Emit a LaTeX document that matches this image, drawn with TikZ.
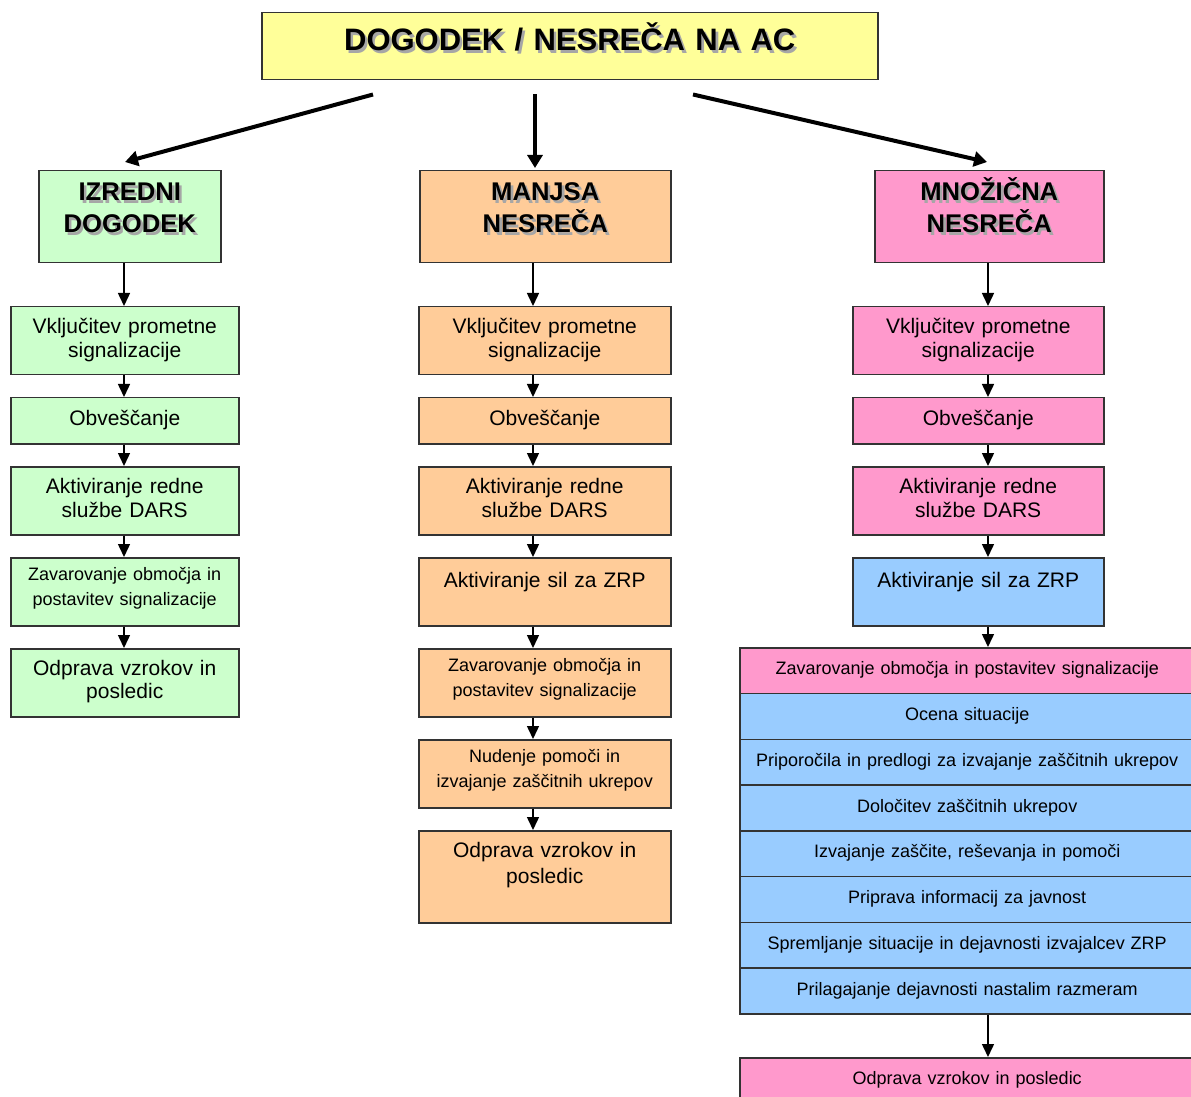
\documentclass[tikz,border=0pt]{standalone}
\usepackage{fontspec}
\setmainfont{Liberation Sans}
\usetikzlibrary{arrows.meta}

\definecolor{titlefill}{HTML}{FFFF99}
\definecolor{minorfill}{HTML}{CCFFCC}
\definecolor{smallfill}{HTML}{FFCC99}
\definecolor{massfill}{HTML}{FF99CC}
\definecolor{zrpfill}{HTML}{99CCFF}

\newcommand{\txtshadow}[1]{\leavevmode\rlap{\kern1.3pt\raisebox{-1.3pt}{\textcolor{black!35}{#1}}}#1}

\begin{document}
\begin{tikzpicture}[x=0.5pt, y=-0.5pt,
	box/.style={draw=black!80, line width=0.75pt, anchor=north west, inner sep=0pt, align=center},
	title node/.style={box, fill=titlefill, text width=308pt, text height=19pt, text depth=14.5pt, font=\fontsize{15.5}{19}\selectfont\bfseries},
	head node/.style={box, text height=15pt, text depth=31pt, font=\fontsize{12.8}{16}\selectfont\bfseries},
	step node/.style={box, text height=13.5pt, text depth=20.5pt, font=\fontsize{10.5}{12}\selectfont},
	low node/.style={step node, text height=14pt, text depth=9pt},
	sil node/.style={step node, text height=15pt, text depth=19pt},
	small node/.style={box, text height=11.5pt, text depth=22.5pt, font=\fontsize{9}{12.3}\selectfont},
	row node/.style={box, fill=zrpfill, text width=227.5pt, text height=13.5pt, text depth=9.375pt, font=\fontsize{9}{11}\selectfont},
	left col/.style={fill=minorfill, text width=114pt},
	mid col/.style={fill=smallfill, text width=126pt},
	right col/.style={fill=massfill, text width=125.5pt},
	flow/.style={-{Triangle[width=6pt,length=6.5pt]}, line width=0.75pt},
	main flow/.style={-{Triangle[width=7.5pt,length=6.5pt]}, line width=2pt}
]
	\clip (0,0) rectangle (1191,1097);

	\node[title node] (event) at (261,12) {\txtshadow{DOGODEK / NESREČA NA AC}};

	\node[head node, left col, text width=91pt] (minor) at (38,170) {\txtshadow{IZREDNI}\\\txtshadow{DOGODEK}};
	\node[head node, mid col, text width=125.5pt] (small) at (419,170) {\txtshadow{MANJSA}\\\txtshadow{NESREČA}};
	\node[head node, right col, text width=114.5pt] (mass) at (874,170) {\txtshadow{MNOŽIČNA}\\\txtshadow{NESREČA}};

	% izredni dogodek
	\node[step node, left col] (l1) at (10,306) {Vključitev prometne\\signalizacije};
	\node[low node, left col] (l2) at (10,397) {Obveščanje};
	\node[step node, left col] (l3) at (10,466) {Aktiviranje redne\\službe DARS};
	\node[small node, left col] (l4) at (10,557) {Zavarovanje območja in\\postavitev signalizacije};
	\node[step node, left col, font=\fontsize{10.5}{11.5}\selectfont] (l5) at (10,648) {Odprava vzrokov in\\posledic};

	% manjsa nesreca
	\node[step node, mid col] (m1) at (418,306) {Vključitev prometne\\signalizacije};
	\node[low node, mid col] (m2) at (418,397) {Obveščanje};
	\node[step node, mid col] (m3) at (418,466) {Aktiviranje redne\\službe DARS};
	\node[sil node, mid col] (m4) at (418,557) {Aktiviranje sil za ZRP};
	\node[small node, mid col] (m5) at (418,648) {Zavarovanje območja in\\postavitev signalizacije};
	\node[small node, mid col] (m6) at (418,739) {Nudenje pomoči in\\izvajanje zaščitnih ukrepov};
	\node[step node, mid col, text depth=32.5pt, font=\fontsize{10.5}{13}\selectfont] (m7) at (418,830) {Odprava vzrokov in\\posledic};

	% mnozicna nesreca
	\node[step node, right col] (r1) at (852,306) {Vključitev prometne\\signalizacije};
	\node[low node, right col] (r2) at (852,397) {Obveščanje};
	\node[step node, right col] (r3) at (852,466) {Aktiviranje redne\\službe DARS};
	\node[sil node, right col, fill=zrpfill] (r4) at (852,557) {Aktiviranje sil za ZRP};

	\node[row node, fill=massfill] (t0) at (739,647) {Zavarovanje območja in postavitev signalizacije};
	\foreach \rowtext [count=\i] in {Ocena situacije, Priporočila in predlogi za izvajanje zaščitnih ukrepov, Določitev zaščitnih ukrepov, {Izvajanje zaščite, reševanja in pomoči}, Priprava informacij za javnost, Spremljanje situacije in dejavnosti izvajalcev ZRP, Prilagajanje dejavnosti nastalim razmeram}
		\node[row node] (t\i) at (739,{647+45.75*\i}) {\rowtext};
	\node[row node, fill=massfill, text depth=10pt] (fix) at (739,1057) {Odprava vzrokov in posledic};

	\coordinate (lx) at (124,0);
	\coordinate (mx) at (533,0);
	\coordinate (rx) at (988,0);

	\draw[main flow] ([shift={(112,14)}]event.south west) -- ([shift={(87,-8)}]minor.north west);
	\draw[main flow] ([shift={(274,14)}]event.south west) -- ([shift={(116,-2)}]small.north west);
	\draw[main flow] ([shift={(432,14)}]event.south west) -- ([shift={(113,-8)}]mass.north west);

	\foreach \a/\b in {minor/l1,l1/l2,l2/l3,l3/l4,l4/l5}
		\draw[flow] (\a.south -| lx) -- (\b.north -| lx);
	\foreach \a/\b in {small/m1,m1/m2,m2/m3,m3/m4,m4/m5,m5/m6,m6/m7}
		\draw[flow] (\a.south -| mx) -- (\b.north -| mx);
	\foreach \a/\b in {mass/r1,r1/r2,r2/r3,r3/r4,r4/t0,t7/fix}
		\draw[flow] (\a.south -| rx) -- (\b.north -| rx);
\end{tikzpicture}
\end{document}
